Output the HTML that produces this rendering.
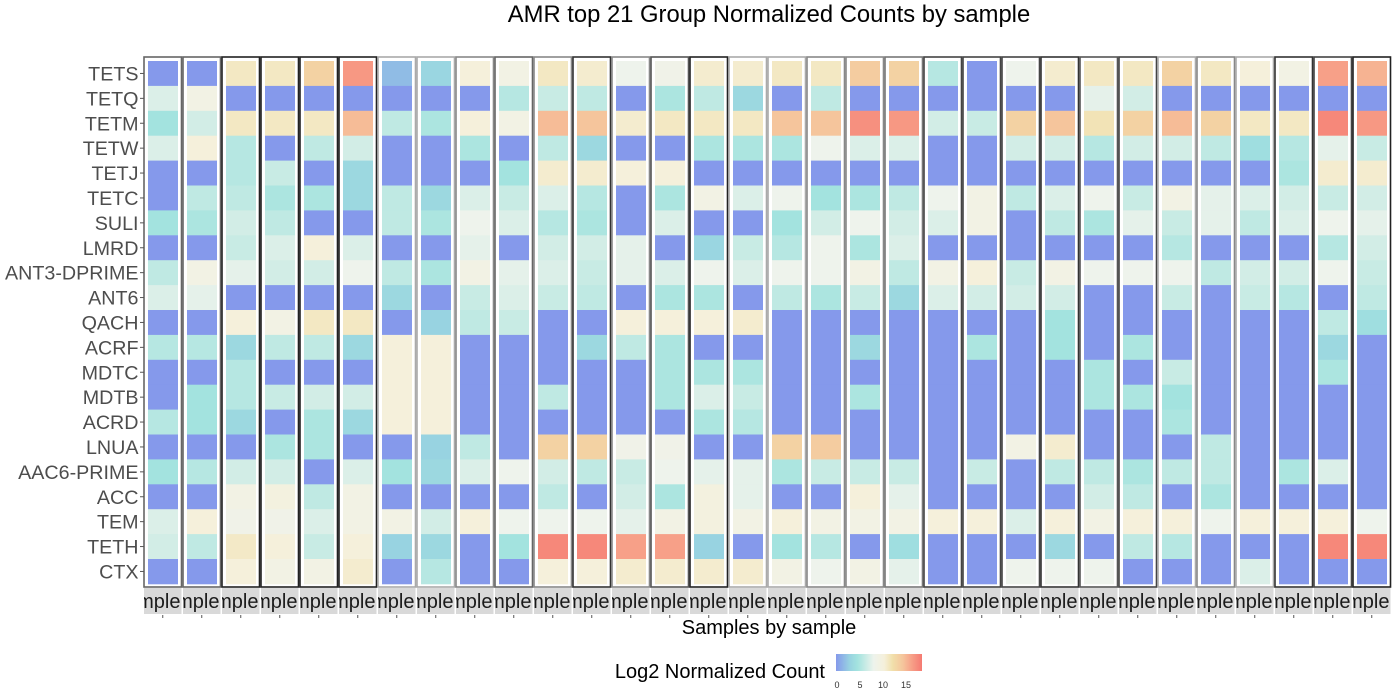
<!DOCTYPE html>
<html><head><meta charset="utf-8"><style>
html,body{margin:0;padding:0;background:#fff;}
svg{display:block;font-family:"Liberation Sans",sans-serif;}
</style></head><body>
<svg id="chart" width="1400" height="700" viewBox="0 0 1400 700" xmlns="http://www.w3.org/2000/svg">
<defs>
<linearGradient id="lg" x1="0" x2="1" y1="0" y2="0">
<stop offset="0" stop-color="#8599eb"/><stop offset="0.16" stop-color="#98d3e1"/><stop offset="0.25" stop-color="#a3e3df"/>
<stop offset="0.44" stop-color="#eef3ec"/><stop offset="0.56" stop-color="#f5f0db"/><stop offset="0.66" stop-color="#f1dfaa"/>
<stop offset="0.78" stop-color="#f5c59c"/><stop offset="0.88" stop-color="#f7a088"/><stop offset="1" stop-color="#f57a72"/>
</linearGradient>
</defs>
<text x="769" y="22" font-size="23.8" text-anchor="middle" fill="#000">AMR top 21 Group Normalized Counts by sample</text>
<g id="panels"></g>
<g id="ylabels"></g>
<text x="769" y="634" font-size="20" text-anchor="middle" fill="#000">Samples by sample</text>
<text x="825" y="678" font-size="20" text-anchor="end" fill="#000">Log2 Normalized Count</text>
<rect x="836" y="654" width="86" height="17" fill="url(#lg)"/>
<g id="legend-ticks" font-size="9" fill="#333" text-anchor="middle"></g>
</svg>
<script>
const genes = ["TETS","TETQ","TETM","TETW","TETJ","TETC","SULI","LMRD","ANT3-DPRIME","ANT6","QACH","ACRF","MDTC","MDTB","ACRD","LNUA","AAC6-PRIME","ACC","TEM","TETH","CTX"];
const legendTicks = [0,5,10,15];
const s01 = [0,7,4,7,0,0,4,0,5.5,7,0,5,0,0,5,0,4,0,7,6.5,0];
const s02 = [0,9,6.5,10,0,5.5,4.5,0,9,7.5,0,5,0,4,4,0,5,0,10,5.5,0];
const s03 = [11,0,11,5,5,5.5,6.5,6,7.5,0,10,3,5,5,3,0,6.5,9,8.5,10.8,10];
const s04 = [11,0,11,0,6,4.5,5.5,7,6.5,0,9,5.5,0,6,0,4.5,6.5,9.5,8.5,10,9];
const s05 = [13,0,11,5.5,0,4.5,0,10,6.5,0,11,5.5,0,6.5,4.5,4.5,0,5.5,7,6,9];
const s06 = [16.5,0,14.5,6.5,3,3,0,7,8,0,11,3,0,6.5,3,0,7,9,9,10,10.5];
const s07 = [1.5,0,5.5,0,0,5.5,5.5,0,5.5,3,0,10,10,10,10,0,4,0,9,2.5,0];
const s08 = [2.8,0,4.5,0,0,3,4.5,0,4.5,0,2.5,10,10,10,10,2.5,3,0,6.5,3,5];
const s09 = [10,0,10,4.5,0,7,8,7.5,9,6,5.5,0,0,0,0,5.5,7,0,10,0,0];
const s10 = [9,5,9,0,4,6,7,0,7.5,7,6,0,0,0,0,0,8,0,8,4,0];
const s11 = [11,6,14.5,5.5,10.5,7,5,6.5,7,6,0,0,0,5.5,0,13,6.5,5.5,8,17.5,10];
const s12 = [10.5,5.5,14,3,10.5,5,4.5,6.5,6,5.5,0,3,0,0,0,13,5.5,0,8,17.5,10];
const s13 = [8,0,10.5,0,10,0,0,7.5,7.5,0,10,5.5,0,0,0,8.5,6,6.5,7.5,16,10.5];
const s14 = [8.5,4.5,11,0,10,4.5,7,0,7,4.5,10,4.5,4.5,4.5,0,8.5,8,4.5,9,16,10.5];
const s15 = [10.5,5.5,11,4.5,0,9,0,2.8,8,4.5,10,0,4.5,7,4.5,0,7.5,9.5,9.5,2.5,10.5];
const s16 = [10.5,3,11,4.5,0,7,0,6,7,0,10.5,0,4.5,6,5,0,7.5,7.5,9,0,10.5];
const s17 = [11,0,14,4.5,0,8,4,5,8,5.5,0,0,0,0,0,13,4.5,0,10,4,9];
const s18 = [11,5.5,14,8,0,4,6.5,8,8,4.5,0,0,0,0,0,13.5,6,0,9,5,8];
const s19 = [13.5,0,17,7,0,4.5,8,4.5,9,6,0,3,0,4.5,0,0,6,10,9,0,9];
const s20 = [13,0,16.5,7,0,5.5,6.5,7,5.5,3,0,0,0,0,0,0,6,7.5,9,3.5,7.5];
const s21 = [5,0,6.5,0,0,8,7,0,9,7,0,0,0,0,0,0,0,0,10,0,0];
const s22 = [0,0,6,0,0,9,9,0,10,6.5,0,4.5,0,0,0,0,6,0,10,0,0];
const s23 = [8,0,13,6.5,0,5.5,0,0,6,6.5,0,0,0,0,0,9,0,0,7,0,8];
const s24 = [10.5,0,14,6.5,0,7,5.5,0,9,6.5,4,4,0,0,0,10.5,5.5,0,10,3,8];
const s25 = [11,7.5,11.5,5,0,8,4.5,0,8,0,0,0,4.5,4.5,0,0,5.5,6.5,9,0,8];
const s26 = [11,6.5,13,6.5,0,6,7.5,0,8,0,0,4.5,0,4.5,0,0,4.5,5.5,10,5.5,0];
const s27 = [13,0,14.5,6.5,0,9,6,5,8,6,0,0,6,4,4.5,0,5.5,0,10,5,0];
const s28 = [11,0,13,5.5,0,7.5,7.5,0,5.5,0,0,0,0,0,0,5.5,5.5,4.5,8,0,0];
const s29 = [10,0,11,3.5,0,7,5.5,0,6.5,6,0,0,0,0,0,0,0,0,10,0,7];
const s30 = [9,0,11,5,4.5,6.5,7,0,6.5,5,0,0,0,0,0,0,4.5,0,10,0,0];
const s31 = [16,0,17.5,7.5,10.5,6,8,5,8,0,5.5,3,4.5,0,0,0,7,0,10,17.5,0];
const s32 = [15,0,16.5,6,10.5,6.5,7.5,6.5,6,5.5,3.5,0,0,0,0,0,0,0,8,17.5,0];
const samples = [s01,s02,s03,s04,s05,s06,s07,s08,s09,s10,s11,s12,s13,s14,s15,s16,s17,s18,s19,s20,s21,s22,s23,s24,s25,s26,s27,s28,s29,s30,s31,s32];

const NS="http://www.w3.org/2000/svg";
const stops=[[0,[133,153,235]],[2.5,[152,211,225]],[4,[163,227,223]],[6,[200,235,228]],[8,[238,243,236]],[10,[245,240,219]],[12,[241,223,170]],[14,[245,197,156]],[16,[247,160,136]],[18.4,[245,122,114]]];
function color(v){
  if(v<=0) return "rgb(133,153,235)";
  for(let i=1;i<stops.length;i++){
    if(v<=stops[i][0]){const a=stops[i-1],b=stops[i];const t=(v-a[0])/(b[0]-a[0]);
      const c=a[1].map((x,k)=>Math.round(x+(b[1][k]-x)*t));return "rgb("+c.join(",")+")";}
  }
  return "rgb(245,122,114)";
}
const x0=144, pitch=39, pw=37.5, topY=61, rh=24.9;
function xPanel(i){return x0+i*pitch;}
function yRow(j){return topY+j*rh;}
function xLegend(v){return 837+v*(23/5);}
const borders=["#666","#666","#222","#222","#222","#222","#aaa","#aaa","#888","#666","#888","#333","#888","#555","#222","#aaa","#aaa","#888","#888","#777","#444","#444","#444","#333","#555","#444","#aaa","#888","#aaa","#333","#444","#222"];
const pg=document.getElementById("panels");
samples.forEach((col,i)=>{
  const g=document.createElementNS(NS,"g");
  
  
  const px=xPanel(i);
  const bd=document.createElementNS(NS,"rect");
  bd.setAttribute("x",px);bd.setAttribute("y",57);bd.setAttribute("width",pw);bd.setAttribute("height",530);
  bd.setAttribute("fill","#fff");bd.setAttribute("stroke",borders[i]);bd.setAttribute("stroke-width","1.6");
  
  
  g.appendChild(bd);
  col.forEach((v,j)=>{
    const r=document.createElementNS(NS,"rect");
    r.setAttribute("x",px+4);r.setAttribute("y",yRow(j));r.setAttribute("width",pw-7.5);r.setAttribute("height",rh+0.4);
    r.setAttribute("fill",color(v));
    
    
    g.appendChild(r);
  });
  const sg=document.createElementNS(NS,"svg");
  sg.setAttribute("x",px);sg.setAttribute("y",588);sg.setAttribute("width",pw);sg.setAttribute("height",26);
  const sr=document.createElementNS(NS,"rect");
  sr.setAttribute("width",pw);sr.setAttribute("height",26);sr.setAttribute("fill","#d9d9d9");
  
  
  sg.appendChild(sr);
  const st=document.createElementNS(NS,"text");
  st.setAttribute("x",pw-1);st.setAttribute("y",20);st.setAttribute("font-size","20");st.setAttribute("text-anchor","end");st.setAttribute("fill","#1a1a1a");
  st.textContent="Sample";
  
  
  sg.appendChild(st);
  g.appendChild(sg);
  const tk=document.createElementNS(NS,"line");
  tk.setAttribute("x1",px+pw/2);tk.setAttribute("x2",px+pw/2);tk.setAttribute("y1",615);tk.setAttribute("y2",618);tk.setAttribute("stroke","#555");
  
  
  g.appendChild(tk);
  pg.appendChild(g);
});
const yg=document.getElementById("ylabels");
genes.forEach((gname,j)=>{
  const cy=yRow(j)+rh/2;
  const t=document.createElementNS(NS,"text");
  t.setAttribute("x",138.5);t.setAttribute("y",cy+7);t.setAttribute("font-size","19.7");t.setAttribute("text-anchor","end");t.setAttribute("fill","#4d4d4d");
  t.textContent=gname;
  
  
  yg.appendChild(t);
  const l=document.createElementNS(NS,"line");
  l.setAttribute("x1",140);l.setAttribute("x2",144);l.setAttribute("y1",cy);l.setAttribute("y2",cy);l.setAttribute("stroke","#555");
  
  
  yg.appendChild(l);
});
const lt=document.getElementById("legend-ticks");
legendTicks.forEach(v=>{
  const t=document.createElementNS(NS,"text");
  t.setAttribute("x",xLegend(v));t.setAttribute("y",688);
  t.textContent=v;
  
  
  lt.appendChild(t);
});
</script>
</body></html>
